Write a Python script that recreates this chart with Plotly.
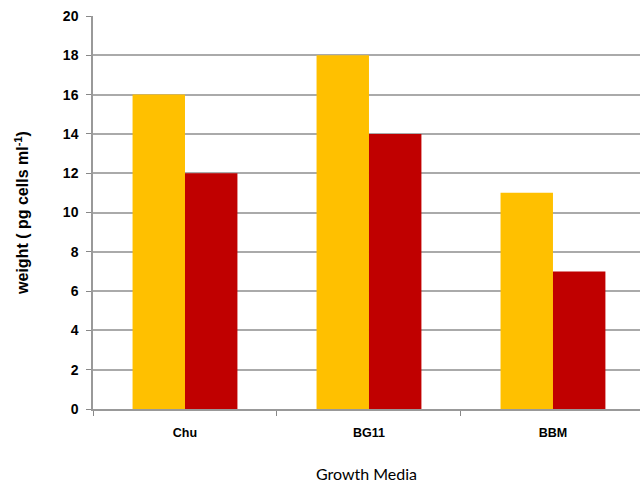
import plotly.graph_objects as go

media = ["Chu", "BG11", "BBM"]
series_a = [16, 18, 11]
series_b = [12, 14, 7]
y_ticks = [0, 2, 4, 6, 8, 10, 12, 14, 16, 18, 20]

fig = go.Figure()
fig.add_trace(go.Bar(x=media, y=series_a, marker=dict(color="#FFC000", line=dict(width=0)),
                     showlegend=False))
fig.add_trace(go.Bar(x=media, y=series_b, marker=dict(color="#C00000", line=dict(width=0)),
                     showlegend=False))

fig.update_layout(
    width=640, height=485,
    margin=dict(l=93, r=0, t=16, b=76),
    paper_bgcolor="white", plot_bgcolor="white",
    barmode="group", bargap=0.43, bargroupgap=0,
    font=dict(family="Liberation Sans, Arial", color="black"),
)
fig.update_xaxes(
    type="category", range=[-0.5, 2.473],
    tickson="boundaries", ticks="outside", ticklen=5, tickcolor="#888888",
    showline=True, linecolor="#999999", linewidth=1.5,
    tickfont=dict(family="Liberation Sans, Arial", size=12.5, color="black", weight="bold"),
    ticklabelstandoff=11,
    title=dict(text="Growth Media", font=dict(family="Lato, Open Sans", size=16), standoff=30),
    showgrid=False,
)
fig.update_yaxes(
    range=[0, 20], tickvals=y_ticks, ticks="outside", ticklen=5, tickcolor="#888888",
    showline=True, linecolor="#999999", linewidth=1.5,
    showgrid=True, gridcolor="#AAAAAA", gridwidth=1.5,
    tickfont=dict(family="Liberation Sans, Arial", size=14, color="black", weight="bold"),
    ticklabelstandoff=5,
    title=dict(text="weight ( pg cells ml<sup>-1</sup>)",
               font=dict(family="Liberation Sans, Arial", size=16, weight="bold"), standoff=30),
    zeroline=False,
)

fig.write_html("out.html")
